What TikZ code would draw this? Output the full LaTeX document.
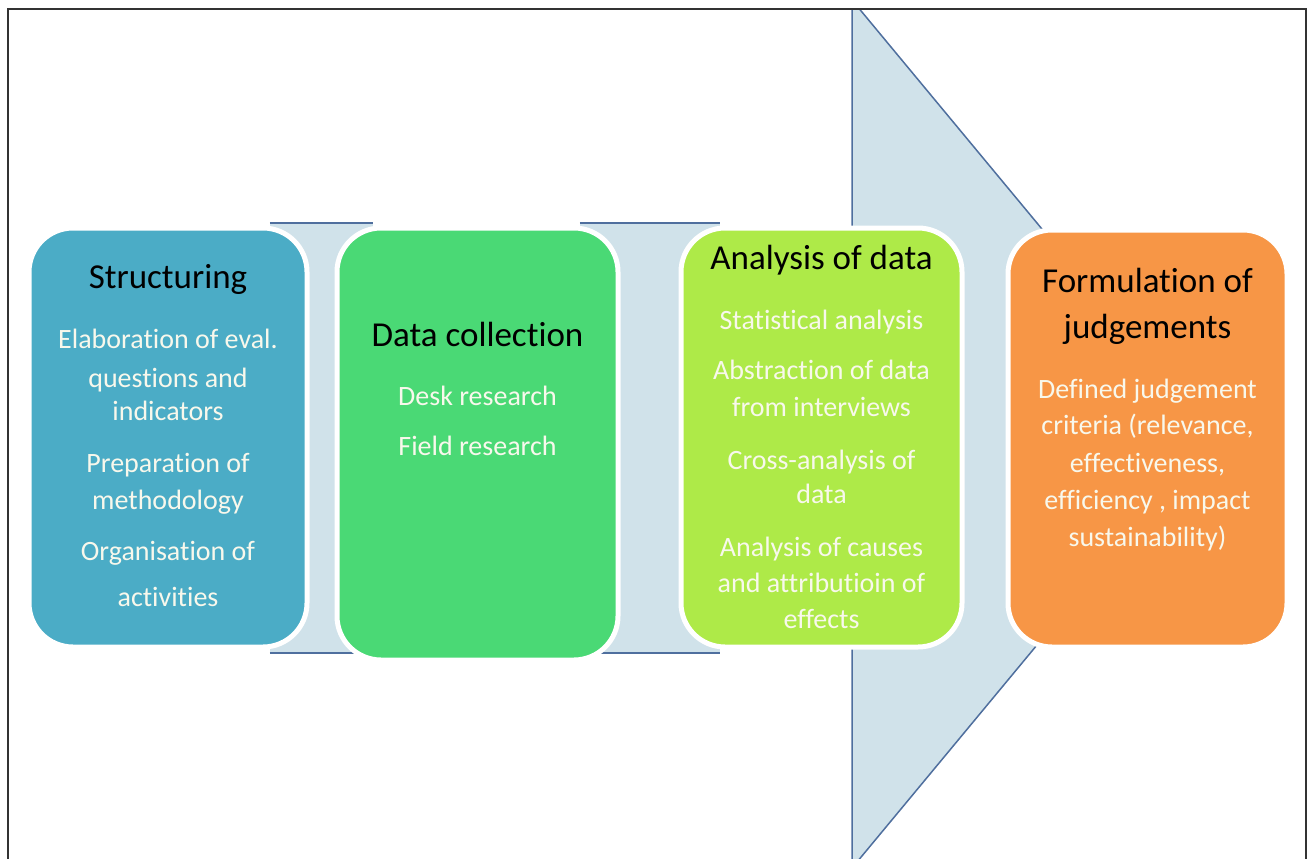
\documentclass[tikz,border=0pt]{standalone}
\usepackage{fontspec}
\setmainfont{Carlito}[Ligatures=NoCommon]
\definecolor{arrowfill}{HTML}{D0E2EA}
\definecolor{arrowline}{HTML}{4F6F9E}
\definecolor{cblue}{HTML}{4BACC6}
\definecolor{cgreen}{HTML}{4AD975}
\definecolor{clime}{HTML}{AEEA48}
\definecolor{corange}{HTML}{F79646}
\definecolor{btext}{HTML}{F8F8EC}
\definecolor{frame}{HTML}{333333}
\tikzset{
  stagebox/.style={rounded corners=44pt, draw=white, line width=5pt, inner sep=0pt},
  linkbar/.style={fill=arrowfill, inner sep=0pt, draw=none},
  barline/.style={draw=arrowline, line width=2pt},
  ttl/.style={font=\fontsize{35}{40}\selectfont, text=black, anchor=mid, inner sep=0pt},
  bdy/.style={font=\fontsize{28}{32}\selectfont, text=btext, anchor=mid, inner sep=0pt},
}
\begin{document}
\begin{tikzpicture}[x=1pt,y=-1pt]
\useasboundingbox (0,0) rectangle (1309,859);
% big arrow
\begin{scope}
\clip (8,9) rectangle (1306,870);
\draw[fill=arrowfill, draw=arrowline, line width=1.5pt] (852,0) -- (1212,434) -- (852,868) -- cycle;
\end{scope}
% frame
\draw[frame, line width=2.2pt] (8,9) rectangle (1306,880);
% connector bars
\node[linkbar, minimum width=103pt, minimum height=430pt] (c1) at (321.5,438) {};
\node[linkbar, minimum width=140pt, minimum height=430pt] (c2) at (650,438) {};
\draw[barline] (c1.north west) -- (c1.north east);
\draw[barline] (c1.south west) -- (c1.south east);
\draw[barline] (c2.north west) -- (c2.north east);
\draw[barline] (c2.south west) -- (c2.south east);
% boxes
\node[stagebox, fill=cblue, minimum width=278pt, minimum height=419pt] (b1) at (168,437.5) {};
\node[stagebox, fill=cgreen, minimum width=281pt, minimum height=432pt] (b2) at (477.5,444) {};
\node[stagebox, fill=clime, minimum width=281pt, minimum height=419pt] (b3) at (821.5,437.5) {};
\node[stagebox, fill=corange, minimum width=279pt, minimum height=417pt] (b4) at (1147.5,438.5) {};
\begin{scope}[yshift=-7pt]
% box 1 text
\node[ttl] (t1) at (168,279) {Structuring};
\node[bdy] (t1a) at (168,339) {Elaboration of eval.};
\node[bdy] (t1b) at (168,378) {questions and};
\node[bdy] (t1c) at (168,411) {indicators};
\node[bdy] (t1d) at (168,463) {Preparation of};
\node[bdy] (t1e) at (168,500) {methodology};
\node[bdy] (t1f) at (168,551) {Organisation of};
\node[bdy] (t1g) at (168,597) {activities};
% box 2 text
\node[ttl] (t2) at (477.5,337) {Data collection};
\node[bdy] (t2a) at (477.5,396) {Desk research};
\node[bdy] (t2b) at (477.5,446) {Field research};
% box 3 text
\node[ttl] (t3) at (821.5,260) {Analysis of data};
\node[bdy] (t3a) at (821.5,320) {Statistical analysis};
\node[bdy] (t3b) at (821.5,370) {Abstraction of data};
\node[bdy] (t3c) at (821.5,407) {from interviews};
\node[bdy] (t3d) at (821.5,460) {Cross-analysis of};
\node[bdy] (t3e) at (821.5,494) {data};
\node[bdy] (t3f) at (821.5,547) {Analysis of causes};
\node[bdy] (t3g) at (821.5,583) {and attributioin of};
\node[bdy] (t3h) at (821.5,619) {effects};
% box 4 text
\node[ttl] (t4) at (1147.5,283) {Formulation of};
\node[ttl] (t4b) at (1147.5,329) {judgements};
\node[bdy] (t4c) at (1147.5,389) {Defined judgement};
\node[bdy] (t4d) at (1147.5,425) {criteria (relevance,};
\node[bdy] (t4e) at (1147.5,463) {effectiveness,};
\node[bdy] (t4f) at (1147.5,500) {efficiency , impact};
\node[bdy] (t4g) at (1147.5,537) {sustainability)};
\end{scope}
\end{tikzpicture}
\end{document}
